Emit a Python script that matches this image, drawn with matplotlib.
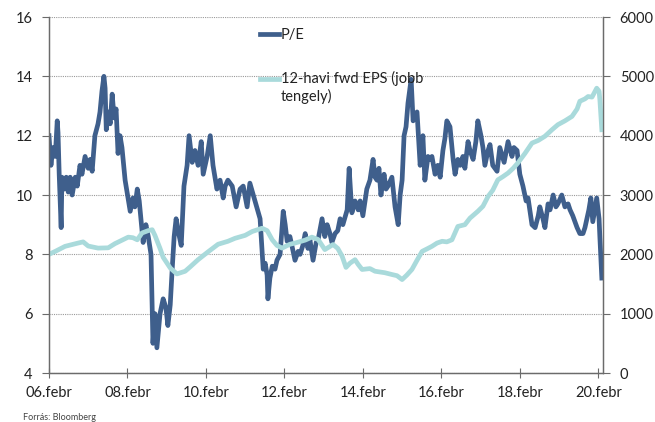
import numpy as np
import matplotlib
matplotlib.use('Agg')
import matplotlib.pyplot as plt
from matplotlib.legend_handler import HandlerLine2D

plt.rcParams['font.family'] = ['Lato', 'DejaVu Sans']

# P/E (bal tengely), idő tizedes évben
pe_t = [2006.08, 2006.13, 2006.18, 2006.24, 2006.29, 2006.31, 2006.34, 2006.39, 2006.41, 2006.47,
        2006.52, 2006.57, 2006.62, 2006.67, 2006.75, 2006.80, 2006.87, 2006.92, 2007.00, 2007.08,
        2007.13, 2007.18, 2007.25, 2007.33, 2007.38, 2007.43, 2007.48, 2007.51, 2007.54, 2007.59,
        2007.64, 2007.69, 2007.74, 2007.79, 2007.84, 2007.89, 2007.94, 2008.02, 2008.07, 2008.15,
        2008.22, 2008.27, 2008.33, 2008.38, 2008.43, 2008.48, 2008.55, 2008.61, 2008.68, 2008.73,
        2008.78, 2008.83, 2008.91, 2008.99, 2009.06, 2009.11, 2009.17, 2009.22, 2009.27, 2009.32,
        2009.37, 2009.45, 2009.52, 2009.60, 2009.65, 2009.73, 2009.80, 2009.88, 2009.96, 2010.01,
        2010.11, 2010.19, 2010.26, 2010.36, 2010.44, 2010.52, 2010.57, 2010.64, 2010.75, 2010.85,
        2010.95, 2011.03, 2011.13, 2011.20, 2011.33, 2011.46, 2011.54, 2011.59, 2011.64, 2011.66,
        2011.71, 2011.77, 2011.84, 2011.89, 2011.97, 2012.05, 2012.10, 2012.15, 2012.22, 2012.27,
        2012.35, 2012.43, 2012.48, 2012.55, 2012.61, 2012.68, 2012.73, 2012.81, 2012.89, 2012.94,
        2013.04, 2013.11, 2013.17, 2013.24, 2013.29, 2013.37, 2013.44, 2013.50, 2013.57, 2013.68,
        2013.73, 2013.80, 2013.88, 2013.96, 2014.01, 2014.08, 2014.18, 2014.26, 2014.34, 2014.39,
        2014.44, 2014.49, 2014.54, 2014.62, 2014.67, 2014.72, 2014.82, 2014.90, 2014.98, 2015.03,
        2015.08, 2015.13, 2015.18, 2015.23, 2015.31, 2015.36, 2015.41, 2015.46, 2015.54, 2015.61,
        2015.66, 2015.74, 2015.79, 2015.84, 2015.92, 2015.99, 2016.05, 2016.12, 2016.17, 2016.22,
        2016.30, 2016.38, 2016.43, 2016.50, 2016.56, 2016.63, 2016.68, 2016.76, 2016.81, 2016.89,
        2016.96, 2017.01, 2017.09, 2017.14, 2017.19, 2017.27, 2017.32, 2017.39, 2017.50, 2017.57,
        2017.68, 2017.78, 2017.88, 2017.93, 2018.01, 2018.08, 2018.16, 2018.24, 2018.29, 2018.39,
        2018.47, 2018.55, 2018.59, 2018.67, 2018.72, 2018.80, 2018.85, 2018.93, 2019.00, 2019.05,
        2019.15, 2019.23, 2019.31, 2019.36, 2019.43, 2019.54, 2019.61, 2019.69, 2019.74, 2019.79,
        2019.84, 2019.89, 2019.94, 2019.99, 2020.04, 2020.10, 2020.12, 2020.15, 2020.17]
pe_v = [12.0, 11.0, 11.6, 11.3, 12.5, 12.1, 10.7, 8.9, 10.6, 10.2,
        10.6, 10.1, 10.6, 10.0, 10.6, 10.3, 11.0, 10.7, 11.3, 10.9,
        11.2, 10.8, 12.0, 12.4, 12.8, 13.5, 14.0, 13.6, 12.2, 12.8,
        12.4, 13.4, 12.6, 12.9, 11.4, 12.0, 11.6, 10.5, 10.1, 9.45,
        9.9, 9.6, 10.2, 9.8, 9.1, 8.4, 9.0, 8.6, 8.0, 5.0,
        6.0, 4.85, 6.0, 6.5, 6.2, 5.6, 6.3, 7.5, 8.6, 9.2,
        8.8, 8.3, 10.3, 11.0, 12.0, 11.1, 11.5, 11.0, 11.8, 10.7,
        11.3, 12.0, 11.0, 10.2, 10.5, 9.9, 10.3, 10.5, 10.3, 9.6,
        10.2, 10.3, 9.6, 10.4, 9.8, 9.2, 7.5, 7.7, 7.3, 6.5,
        7.2, 7.6, 7.5, 7.8, 8.0, 9.45, 9.0, 8.44, 8.6, 8.3,
        7.8, 8.1, 8.0, 8.3, 8.7, 8.2, 8.5, 7.8, 8.4, 8.5,
        9.2, 8.6, 9.0, 8.7, 8.4, 8.7, 8.8, 9.2, 9.0, 9.5,
        10.9, 9.4, 9.8, 9.5, 9.8, 9.3, 10.2, 10.5, 11.2, 10.6,
        10.5, 10.9, 10.0, 10.7, 10.2, 10.3, 10.6, 9.6, 9.0, 10.0,
        10.5, 12.0, 12.3, 13.1, 13.9, 12.5, 12.7, 12.8, 11.0, 12.0,
        10.5, 11.3, 11.2, 11.3, 10.7, 11.0, 10.6, 11.5, 11.9, 12.5,
        12.3, 11.2, 10.7, 11.2, 11.0, 11.3, 10.9, 11.8, 11.5, 11.2,
        11.8, 12.5, 12.0, 11.6, 11.0, 11.5, 11.7, 11.0, 10.8, 11.6,
        11.1, 11.8, 11.3, 11.6, 11.5, 10.7, 10.3, 9.8, 9.9, 9.0,
        8.9, 9.3, 9.6, 9.2, 8.9, 9.7, 9.5, 10.0, 9.6, 9.7,
        10.0, 9.6, 9.7, 9.5, 9.3, 8.9, 8.7, 8.7, 8.9, 9.2,
        9.5, 9.9, 9.1, 9.5, 9.9, 9.2, 8.6, 7.8, 7.2]

# 12-havi fwd EPS (jobb tengely)
eps_t = [2006.08, 2006.24, 2006.49, 2006.82, 2006.95, 2007.08, 2007.33, 2007.59, 2007.76, 2008.10,
         2008.22, 2008.33, 2008.45, 2008.61, 2008.71, 2008.78, 2008.91, 2008.99, 2009.17, 2009.34,
         2009.55, 2009.68, 2009.88, 2010.13, 2010.39, 2010.64, 2010.82, 2011.08, 2011.26, 2011.51,
         2011.64, 2011.77, 2011.89, 2012.02, 2012.22, 2012.35, 2012.61, 2012.78, 2012.94, 2013.11,
         2013.32, 2013.44, 2013.55, 2013.65, 2013.75, 2013.88, 2013.96, 2014.06, 2014.26, 2014.39,
         2014.64, 2014.82, 2014.95, 2015.08, 2015.20, 2015.33, 2015.46, 2015.59, 2015.71, 2015.84,
         2015.97, 2016.10, 2016.22, 2016.35, 2016.50, 2016.68, 2016.81, 2017.01, 2017.14, 2017.27,
         2017.39, 2017.52, 2017.65, 2017.78, 2017.91, 2018.03, 2018.21, 2018.39, 2018.55, 2018.72,
         2018.90, 2019.05, 2019.23, 2019.41, 2019.54, 2019.61, 2019.74, 2019.82, 2019.92, 2020.04,
         2020.10, 2020.12, 2020.17]
eps_v = [2000, 2050, 2135, 2190, 2210, 2140, 2105, 2110, 2180, 2290,
         2280, 2245, 2360, 2400, 2415, 2320, 2100, 1950, 1770, 1670,
         1715, 1790, 1910, 2040, 2170, 2220, 2270, 2320, 2385, 2440,
         2400, 2245, 2150, 2105, 2170, 2190, 2240, 2290, 2250, 2080,
         2165, 2100, 1970, 1780, 1850, 1910, 1830, 1745, 1760, 1715,
         1690, 1660, 1640, 1575, 1650, 1745, 1900, 2050, 2090, 2135,
         2190, 2220, 2210, 2245, 2470, 2500, 2610, 2725, 2810, 2975,
         3080, 3255, 3310, 3370, 3450, 3540, 3700, 3875, 3920, 3990,
         4100, 4185, 4250, 4325, 4450, 4580, 4620, 4660, 4650, 4800,
         4750, 4610, 4100]

tick_pos = [2006.08, 2008.08, 2010.08, 2012.08, 2014.08, 2016.08, 2018.08, 2020.08]
tick_lbl = ['06.febr', '08.febr', '10.febr', '12.febr', '14.febr', '16.febr', '18.febr', '20.febr']

PE_COLOR = '#3f5f8c'
EPS_COLOR = '#a9dadb'
AX_COLOR = '#6b6b6b'
TXT_COLOR = '#222222'


class FirstLineHandler(HandlerLine2D):
    # a kétsoros címkénél a jel az első sorhoz igazodjon
    def __init__(self, shift, **kw):
        super().__init__(**kw)
        self.shift = shift

    def create_artists(self, legend, orig_handle, xdescent, ydescent, width, height,
                       fontsize, trans):
        arts = super().create_artists(legend, orig_handle, xdescent, ydescent, width,
                                      height, fontsize, trans)
        for a in arts:
            a.set_ydata(np.asarray(a.get_ydata(), dtype=float) + self.shift)
        return arts


fig = plt.figure(figsize=(6.55, 4.22), dpi=100)
ax = fig.add_axes([0.0748, 0.1161, 0.8458, 0.8436])
ax2 = ax.twinx()

l1, = ax.plot(pe_t, pe_v, color=PE_COLOR, linewidth=3.4, label='P/E')
l2, = ax2.plot(eps_t, eps_v, color=EPS_COLOR, linewidth=3.4,
               label='12-havi fwd EPS (jobb\ntengely)')

ax.set_xlim(2006.08, 2020.20)
ax.set_ylim(4, 16)
ax.set_yticks([4, 6, 8, 10, 12, 14, 16])
ax2.set_ylim(0, 6000)
ax2.set_yticks([0, 1000, 2000, 3000, 4000, 5000, 6000])
ax.set_xticks(tick_pos)
ax.set_xticklabels(tick_lbl)

ax.grid(axis='y', linestyle=(0, (1, 1)), color='#9a9a9a', linewidth=0.8)
ax.set_axisbelow(True)

for a in (ax, ax2):
    a.spines['top'].set_visible(False)
    for s in ('left', 'right', 'bottom'):
        a.spines[s].set_color(AX_COLOR)
        a.spines[s].set_linewidth(0.9)
ax.tick_params(axis='y', direction='out', length=5, color=AX_COLOR, labelsize=10.5, pad=7, labelcolor=TXT_COLOR)
ax2.tick_params(axis='y', direction='out', length=5, color=AX_COLOR, labelsize=10.5, pad=7, labelcolor=TXT_COLOR)
ax.tick_params(axis='x', direction='inout', length=7, color=AX_COLOR, labelsize=10.5, pad=6, labelcolor=TXT_COLOR)

leg = ax.legend([l1, l2], ['P/E', '12-havi fwd EPS (jobb\ntengely)'], loc='upper left',
                bbox_to_anchor=(0.37, 0.985), frameon=False, fontsize=10.5,
                handlelength=1.3, handletextpad=0.15, labelspacing=2.0, borderaxespad=0,
                handler_map={l2: FirstLineHandler(shift=6.5)})
for t in leg.get_texts():
    t.set_color(TXT_COLOR)

fig.text(0.035, 0.004, 'Forrás: Bloomberg', fontsize=6.5, color='#444444')

plt.savefig('out.png', dpi=100)
